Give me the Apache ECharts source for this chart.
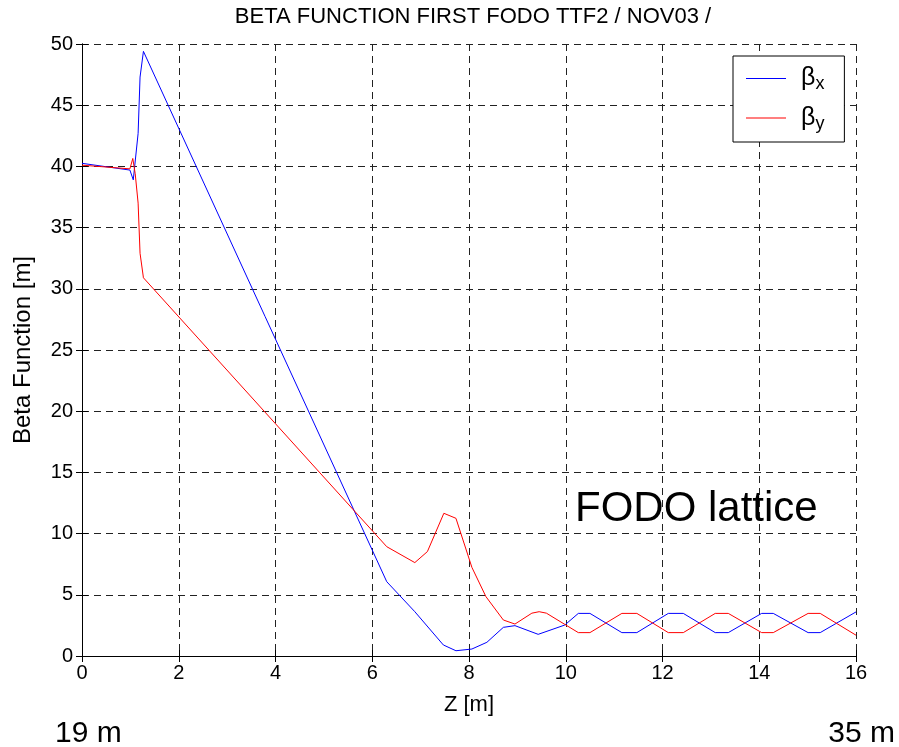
<!DOCTYPE html>
<html>
<head>
<meta charset="utf-8">
<script src="https://cdn.jsdelivr.net/npm/echarts@6/dist/echarts.min.js"></script>
<style>
html,body{margin:0;padding:0;background:#fff;}
#chart{width:899px;height:747px;}
</style>
</head>
<body>
<div id="chart"></div>
<script>
// ---- data ----
const titleText = 'BETA FUNCTION FIRST FODO TTF2 / NOV03 /';
const xTicks = [0, 2, 4, 6, 8, 10, 12, 14, 16];
const yTicks = [0, 5, 10, 15, 20, 25, 30, 35, 40, 45, 50];
const seriesNames = ['βx', 'βy'];

const betaXz = [0, 0.99, 1.06, 1.16, 1.20, 1.27, 6.30, 6.88, 7.47, 7.73, 8.06, 8.37, 8.71, 8.95,
  9.43, 9.98, 10.26, 10.50, 11.16, 11.47, 12.12, 12.43, 13.09, 13.36, 14.05, 14.29, 15.01, 15.26, 16.0];
const betaX = [40.25, 39.7, 38.9, 42.7, 47.3, 49.4, 6.07, 3.62, 0.9, 0.43, 0.57, 1.12, 2.34, 2.48,
  1.77, 2.53, 3.48, 3.48, 1.91, 1.91, 3.48, 3.48, 1.91, 1.91, 3.48, 3.48, 1.91, 1.91, 3.6];

const betaYz = [0, 0.99, 1.05, 1.10, 1.16, 1.20, 1.27, 6.30, 6.88, 7.14, 7.48, 7.73, 8.06, 8.35, 8.71, 8.95,
  9.30, 9.45, 9.60, 10.26, 10.50, 11.16, 11.47, 12.12, 12.43, 13.09, 13.36, 14.05, 14.29, 15.01, 15.26, 16.0];
const betaY = [40.1, 39.8, 40.65, 39.4, 37.0, 32.9, 30.9, 8.93, 7.63, 8.53, 11.66, 11.25, 7.24, 4.85, 2.94, 2.61,
  3.5, 3.62, 3.5, 1.91, 1.91, 3.48, 3.48, 1.91, 1.91, 3.48, 3.48, 1.91, 1.91, 3.48, 3.48, 1.7];

const annotation = 'FODO lattice';
const leftNote = '19 m';
const rightNote = '35 m';

// ---- chart ----
const FONT = "'Liberation Sans', Arial, Helvetica, sans-serif";
const zip = (a, b) => a.map((v, i) => [v, b[i]]);

const chart = echarts.init(document.getElementById('chart'), null, {renderer: 'canvas'});

const axisCommon = {
  type: 'value',
  axisLine: {show: true, lineStyle: {color: '#000', width: 1}},
  axisTick: {show: true, inside: true, length: 6, lineStyle: {color: '#000', width: 1}},
};

const option = {
  animation: false,
  backgroundColor: '#fff',
  grid: {left: 82, right: 43, top: 44, bottom: 91, containLabel: false},
  legend: {
    data: seriesNames,
    orient: 'vertical',
    left: 733,
    top: 56,
    padding: [10, 20, 9, 13],
    itemGap: 12,
    itemWidth: 40,
    itemHeight: 1,
    icon: 'path://M0,0H40V1H0Z',
    backgroundColor: '#fff',
    borderColor: '#000',
    borderWidth: 1,
    borderRadius: 0,
    formatter: name => '{b|' + name.charAt(0) + '}{s|' + name.slice(1) + '}',
    textStyle: {
      fontFamily: FONT,
      color: '#000',
      padding: [0, 0, 0, 10],
      rich: {
        b: {fontFamily: FONT, fontSize: 25, color: '#000', lineHeight: 30},
        s: {fontFamily: FONT, fontSize: 18, color: '#000', lineHeight: 30, verticalAlign: 'bottom'}
      }
    }
  },
  xAxis: [
    Object.assign({}, axisCommon, {
      min: xTicks[0], max: xTicks[xTicks.length - 1], interval: xTicks[1] - xTicks[0],
      position: 'bottom',
      name: 'Z [m]', nameLocation: 'middle', nameGap: 38,
      nameTextStyle: {fontFamily: FONT, fontSize: 22, color: '#000'},
      axisLabel: {fontFamily: FONT, fontSize: 20, color: '#000', margin: 7},
      splitLine: {show: true, lineStyle: {color: '#222', type: [7, 5], width: 1}}
    }),
    Object.assign({}, axisCommon, {
      min: xTicks[0], max: xTicks[xTicks.length - 1], interval: xTicks[1] - xTicks[0],
      position: 'top',
      axisLabel: {show: false},
      splitLine: {show: false}
    })
  ],
  yAxis: [
    Object.assign({}, axisCommon, {
      min: yTicks[0], max: yTicks[yTicks.length - 1], interval: yTicks[1] - yTicks[0],
      position: 'left',
      name: 'Beta Function [m]', nameLocation: 'middle', nameGap: 47,
      nameTextStyle: {fontFamily: FONT, fontSize: 24, color: '#000'},
      axisLabel: {fontFamily: FONT, fontSize: 20, color: '#000', margin: 9},
      splitLine: {show: true, lineStyle: {color: '#222', type: [7, 5], width: 1}}
    }),
    Object.assign({}, axisCommon, {
      min: yTicks[0], max: yTicks[yTicks.length - 1], interval: yTicks[1] - yTicks[0],
      position: 'right',
      axisLabel: {show: false},
      splitLine: {show: false}
    })
  ],
  series: [
    {
      name: seriesNames[0], type: 'line', xAxisIndex: 0, yAxisIndex: 0,
      data: zip(betaXz, betaX), symbol: 'none', showSymbol: false,
      lineStyle: {color: '#0000ff', width: 1}, itemStyle: {color: '#0000ff'}, z: 3
    },
    {
      name: seriesNames[1], type: 'line', xAxisIndex: 0, yAxisIndex: 0,
      data: zip(betaYz, betaY), symbol: 'none', showSymbol: false,
      lineStyle: {color: '#ff0000', width: 1}, itemStyle: {color: '#ff0000'}, z: 4
    }
  ],
  graphic: [
    {type: 'text', x: 473, y: 6, z: 10,
      style: {text: titleText, fontFamily: FONT, fontSize: 22, fill: '#000', align: 'center', verticalAlign: 'top'}},
    {type: 'text', left: 575, top: 488, z: 10,
      style: {text: annotation, fontFamily: FONT, fontSize: 42, fill: '#000'}},
    {type: 'text', left: 55, top: 719, z: 10,
      style: {text: leftNote, fontFamily: FONT, fontSize: 30, fill: '#000'}},
    {type: 'text', right: 4, top: 719, z: 10,
      style: {text: rightNote, fontFamily: FONT, fontSize: 30, fill: '#000'}}
  ]
};

chart.setOption(option);
</script>
</body>
</html>
